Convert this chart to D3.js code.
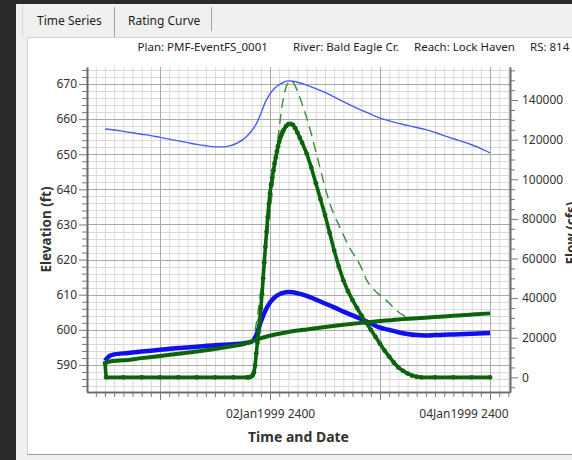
<!DOCTYPE html>
<html>
<head>
<meta charset="utf-8">
<script src="https://cdn.jsdelivr.net/npm/d3@7"></script>
<style>
    html, body { margin: 0; padding: 0; background: #2a2a2a; }
    svg { display: block; font-family: "Noto Sans", "Open Sans", sans-serif; }
</style>
</head>
<body>
<svg id="chart" width="572" height="460"></svg>
<script>
// time is in hours counted from 01Jan1999 0000
const xMajorHours = [48, 72, 96, 120];
const xLabelHours = [72, 120];
const xLabels = ["02Jan1999 2400", "04Jan1999 2400"];
const elevTicks = [590, 600, 610, 620, 630, 640, 650, 660, 670];
const flowTicks = [0, 20000, 40000, 60000, 80000, 100000, 120000, 140000];
const tabNames = ["Time Series", "Rating Curve"];
const headerParts = ["Plan: PMF-EventFS_0001", "River: Bald Eagle Cr.", "Reach: Lock Haven", "RS: 814"];

// thin blue line (elevation)
const upStageHours = [36, 38, 40, 42, 44, 46, 48, 50, 52, 54, 56, 58, 60,
    62, 63, 64, 65, 66, 67, 68, 69, 70, 71, 72, 73, 74, 75, 76, 77, 78,
    80, 82, 84, 86, 88, 90, 92, 94, 96, 98, 100, 102, 104, 106, 108, 110, 112, 114, 116, 118, 120];
const upStageElev = [657.2, 656.9, 656.5, 656.1, 655.7, 655.3, 654.8, 654.3, 653.8, 653.3, 652.8, 652.4, 652.1,
    652.1, 652.3, 652.7, 653.3, 654.1, 655.2, 656.7, 658.6, 661.6, 664.9, 667.2, 668.8, 669.8, 670.5, 670.9, 670.8, 670.5,
    669.7, 668.7, 667.6, 666.3, 665.0, 663.7, 662.5, 661.4, 660.3, 659.5, 658.8, 658.2, 657.6, 657.0, 656.2, 655.3, 654.4, 653.6, 652.7, 651.6, 650.4];

// thick blue line (elevation)
const stageHours = [36, 37, 38, 40, 44, 48, 52, 56, 60, 64, 66, 67, 68,
    69, 70, 71, 72, 73, 74, 75, 76, 77, 78, 79, 80,
    82, 84, 86, 88, 90, 92, 94, 96, 98, 100, 102, 104, 106, 108, 110, 112, 116, 120];
const stageElev = [591.2, 592.6, 593.0, 593.3, 593.8, 594.3, 594.8, 595.2, 595.6, 595.9, 596.1, 596.3, 596.6,
    598.5, 602.3, 605.5, 607.8, 609.2, 610.1, 610.6, 610.8, 610.7, 610.4, 610.1, 609.7,
    608.6, 607.5, 606.4, 605.2, 604.1, 603.0, 601.8, 600.6, 600.0, 599.3, 598.8, 598.5, 598.4, 598.5, 598.6, 598.7, 598.9, 599.1];

// thick green line with markers (flow)
const flowHours = [36, 36.25, 40, 44, 48, 52, 56, 60, 64, 67, 67.5,
    68, 68.25, 68.5, 68.75, 69, 69.25, 69.5, 69.75, 70, 70.25, 70.5, 70.75, 71, 71.25, 71.5, 71.75,
    72, 72.25, 72.5, 72.75, 73, 73.25, 73.5, 73.75, 74, 74.25, 74.5, 74.75, 75,
    75.5, 76, 76.5, 77, 77.5, 78, 78.5, 79,
    80, 81, 82, 83, 84, 85, 86, 87, 88, 89, 90, 91, 92, 93, 94, 95, 96, 97, 98, 99, 100, 101, 102, 103, 104, 105,
    108, 112, 116, 120];
const flowCfs = [7200, 0, 0, 0, 0, 0, 0, 0, 0, 0, 0,
    500, 1200, 2500, 6000, 12000, 17500, 23000, 29000, 35000, 42000, 50000, 58000, 66000, 73500, 81000, 87500,
    93000, 97500, 101000, 104500, 108000, 111000, 114000, 116700, 119000, 121000, 122500, 123900, 125000,
    126800, 127800, 128000, 127500, 125800, 123500, 121000, 118500,
    113000, 106000, 98000, 90000, 82000, 73000, 64000, 56000, 49000, 43500, 39000, 35000, 31000, 27500, 24000, 20500,
    17000, 13500, 10500, 7500, 5000, 3300, 2000, 900, 300, 0,
    0, 0, 0, 0];

// dashed green line (flow)
const upFlowHours = [36, 40, 44, 48, 52, 56, 60, 64, 66, 68,
    69, 70, 71, 72, 73, 74, 75, 76, 76.5,
    77, 78, 79, 80, 81, 82, 83, 84, 85, 86, 87, 88, 89, 90, 91, 92, 93, 94, 95, 96, 97, 98, 99, 100, 101, 102, 103, 104,
    108, 112, 116, 120];
const upFlowCfs = [7000, 8600, 9700, 10800, 11900, 13000, 14300, 15800, 16700, 18200,
    27000, 44000, 63000, 83000, 105000, 126000, 142000, 149000, 149800,
    149000, 144500, 138000, 131000, 123000, 114000, 105000, 96000, 88000, 82000, 77000, 72000, 67000, 63000, 59500,
    55000, 49500, 46000, 43500, 41500, 39500, 37500, 35000, 33000, 31500, 30200, 29700, 29800,
    30500, 31100, 31700, 32300];

// slowly rising thick green line (flow)
const baseHours = [36, 37, 38, 40, 44, 48, 52, 56, 60, 64, 66, 68, 69, 70, 72, 74, 76, 78, 80,
    84, 88, 92, 96, 100, 104, 108, 112, 116, 120];
const baseCfs = [7000, 8000, 8300, 8600, 9700, 10800, 11900, 13000, 14300, 15800, 16700, 18200, 19000, 19800,
    21000, 22000, 22900, 23600, 24200, 25400, 26500, 27500, 28400, 29200, 29800, 30500, 31100, 31700, 32300];

const W = 572, H = 460;
const plot = { left: 87, right: 510, top: 67, bottom: 392 };
const darkGreen = "#0b640b";

const svg = d3.select("#chart");

// window / tab chrome
svg.append("rect").attr("width", W).attr("height", H).attr("fill", "#2a2a2a");
svg.append("rect").attr("x", 16).attr("y", 4).attr("width", W - 16).attr("height", H - 4).attr("fill", "#f0f0f0");
svg.append("rect").attr("x", 27.5).attr("y", 37.5).attr("width", W).attr("height", 417)
    .attr("fill", "#fff").attr("stroke", "#d2d2d2");
svg.append("line").attr("x1", 27).attr("x2", W).attr("y1", 454.5).attr("y2", 454.5).attr("stroke", "#9a9a9a");

const tabX = [37, 128];
const sepX = [22.5, 114.5, 211.5];
sepX.forEach((sx, i) => {
    svg.append("line").attr("x1", sx).attr("x2", sx).attr("y1", i === 0 ? 6 : 7).attr("y2", i === 2 ? 31 : 37)
        .attr("stroke", i === 0 ? "#d6d6d6" : "#a6a6a6");
});
svg.selectAll(".tab")
    .data(tabNames)
    .enter()
    .append("text")
    .attr("class", "tab")
    .attr("x", (d, i) => tabX[i])
    .attr("y", 25)
    .attr("font-size", 12)
    .attr("fill", "#1e1e1e")
    .text(d => d);

const headerX = [137.5, 293, 414, 530];
svg.selectAll(".hdr")
    .data(headerParts)
    .enter()
    .append("text")
    .attr("class", "hdr")
    .attr("x", (d, i) => headerX[i])
    .attr("y", 51)
    .attr("font-size", 11.5)
    .attr("fill", "#1e1e1e")
    .text(d => d);

// scales
const x = d3.scaleLinear().domain([32.07, 124.36]).range([plot.left, plot.right]);
const yElev = d3.scaleLinear().domain([582.3, 674.84]).range([plot.bottom, plot.top]);
const yFlow = d3.scaleLinear().domain([-7400, 156700]).range([plot.bottom, plot.top]);

// grid
const grid = svg.append("g");
const minorX = d3.range(34, 124.4, 2).filter(h => h % 24 !== 0);
const minorY = d3.range(584, 675, 2).filter(v => v % 10 !== 0);
grid.selectAll(".vmin").data(minorX).enter().append("line")
    .attr("x1", d => x(d) + 0.5).attr("x2", d => x(d) + 0.5)
    .attr("y1", plot.top).attr("y2", plot.bottom)
    .attr("stroke", "#d9d9d9");
grid.selectAll(".hmin").data(minorY).enter().append("line")
    .attr("x1", plot.left).attr("x2", plot.right)
    .attr("y1", d => Math.round(yElev(d)) + 0.5).attr("y2", d => Math.round(yElev(d)) + 0.5)
    .attr("stroke", "#d9d9d9");
grid.selectAll(".vmaj").data(xMajorHours).enter().append("line")
    .attr("x1", d => x(d) + 0.5).attr("x2", d => x(d) + 0.5)
    .attr("y1", plot.top).attr("y2", plot.bottom)
    .attr("stroke", "#a8a8a8");
grid.selectAll(".hmaj").data(elevTicks).enter().append("line")
    .attr("x1", plot.left).attr("x2", plot.right)
    .attr("y1", d => Math.round(yElev(d)) + 0.5).attr("y2", d => Math.round(yElev(d)) + 0.5)
    .attr("stroke", "#a8a8a8");

// axes
function styleAxis(g) {
    g.select(".domain").attr("stroke", "#6a6a6a").attr("stroke-width", 1.6);
    g.selectAll(".tick line").attr("stroke", "#7a7a7a");
    g.selectAll(".tick text").attr("fill", "#333").attr("font-size", 12)
        .attr("font-family", "'Noto Sans', sans-serif");
}

// minor ticks first, then the labelled ones
svg.append("g").attr("transform", `translate(${plot.left},0)`)
    .call(d3.axisLeft(yElev).tickValues(minorY).tickSize(5).tickSizeOuter(0).tickFormat(""))
    .call(styleAxis);
svg.append("g").attr("transform", `translate(${plot.left},0)`)
    .call(d3.axisLeft(yElev).tickValues(elevTicks).tickSize(8).tickSizeOuter(0).tickPadding(2))
    .call(styleAxis);

const minorFlow = d3.range(-5000, 156000, 5000).filter(v => v % 20000 !== 0);
svg.append("g").attr("transform", `translate(${plot.right},0)`)
    .call(d3.axisRight(yFlow).tickValues(minorFlow).tickSize(5).tickSizeOuter(0).tickFormat(""))
    .call(styleAxis);
svg.append("g").attr("transform", `translate(${plot.right},0)`)
    .call(d3.axisRight(yFlow).tickValues(flowTicks).tickSize(8).tickSizeOuter(0).tickPadding(4)
        .tickFormat(d3.format("d")))
    .call(styleAxis);

svg.append("g").attr("transform", `translate(0,${plot.bottom})`)
    .call(d3.axisBottom(x).tickValues(minorX).tickSize(5).tickSizeOuter(0).tickFormat(""))
    .call(styleAxis);
const xAxis = svg.append("g").attr("transform", `translate(0,${plot.bottom})`)
    .call(d3.axisBottom(x).tickValues(xMajorHours).tickSize(8).tickSizeOuter(0).tickPadding(9)
        .tickFormat(h => {
            const i = xLabelHours.indexOf(h);
            return i < 0 ? "" : xLabels[i];
        }))
    .call(styleAxis);

// keep the last date label inside the plot frame
xAxis.selectAll(".tick text").each(function (h) {
    const w = this.getComputedTextLength();
    const over = x(h) + w / 2 - (plot.right - 2);
    if (over > 0) d3.select(this).attr("x", -over);
});

// axis titles
svg.append("text")
    .attr("transform", `translate(51,${(plot.top + plot.bottom) / 2}) rotate(-90)`)
    .attr("text-anchor", "middle")
    .attr("font-size", 13.5)
    .attr("font-weight", "bold")
    .attr("fill", "#333")
    .text("Elevation (ft)");
svg.append("text")
    .attr("x", (plot.left + plot.right) / 2)
    .attr("y", 442)
    .attr("text-anchor", "middle")
    .attr("font-size", 14)
    .attr("font-weight", "bold")
    .attr("fill", "#333")
    .text("Time and Date");
// the window cuts this title off at its right edge, as in the original
svg.append("text")
    .attr("transform", `translate(576,233) rotate(-90)`)
    .attr("text-anchor", "middle")
    .attr("font-size", 13.5)
    .attr("font-weight", "bold")
    .attr("fill", "#333")
    .text("Flow (cfs)");

// series
svg.append("clipPath").attr("id", "plotClip")
    .append("rect").attr("x", plot.left).attr("y", plot.top)
    .attr("width", plot.right - plot.left).attr("height", plot.bottom - plot.top);
const layer = svg.append("g").attr("clip-path", "url(#plotClip)");

const elevLine = d3.line().x(d => x(d[0])).y(d => yElev(d[1])).curve(d3.curveMonotoneX);
const flowLine = d3.line().x(d => x(d[0])).y(d => yFlow(d[1])).curve(d3.curveMonotoneX);

layer.append("path")
    .attr("d", elevLine(d3.zip(upStageHours, upStageElev)))
    .attr("fill", "none")
    .attr("stroke", "#4a5cf0")
    .attr("stroke-width", 1.4);

layer.append("path")
    .attr("d", flowLine(d3.zip(upFlowHours, upFlowCfs)))
    .attr("fill", "none")
    .attr("stroke", "#3f8c3f")
    .attr("stroke-width", 1.4)
    .attr("stroke-dasharray", "10,6");

layer.append("path")
    .attr("d", elevLine(d3.zip(stageHours, stageElev)))
    .attr("fill", "none")
    .attr("stroke", "#1010ee")
    .attr("stroke-width", 4.5)
    .attr("stroke-linejoin", "round");

layer.append("path")
    .attr("d", flowLine(d3.zip(baseHours, baseCfs)))
    .attr("fill", "none")
    .attr("stroke", darkGreen)
    .attr("stroke-width", 4)
    .attr("stroke-linejoin", "round");

const flowPts = d3.zip(flowHours, flowCfs);
layer.append("path")
    .attr("d", flowLine.curve(d3.curveLinear)(flowPts))
    .attr("fill", "none")
    .attr("stroke", darkGreen)
    .attr("stroke-width", 3.6)
    .attr("stroke-linejoin", "round");
layer.selectAll(".flowPt")
    .data(flowPts)
    .enter()
    .append("circle")
    .attr("class", "flowPt")
    .attr("cx", d => x(d[0]))
    .attr("cy", d => yFlow(d[1]))
    .attr("r", 2.4)
    .attr("fill", darkGreen);
</script>
</body>
</html>
